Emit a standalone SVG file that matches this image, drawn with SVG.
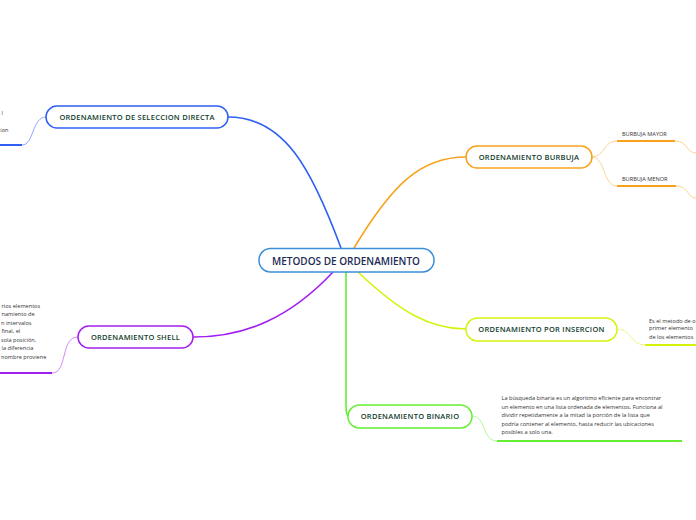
<svg xmlns="http://www.w3.org/2000/svg" width="696" height="520" viewBox="0 0 696 520">
<style>
.node{fill:#fff;stroke-width:1.5}
.nt{font-family:"Open Sans","Noto Sans",sans-serif;font-size:7.5px;font-weight:600;fill:#103b2c;text-anchor:middle;letter-spacing:0.25px}
.ct{font-family:"Open Sans","Noto Sans",sans-serif;font-size:10px;font-weight:600;fill:#1b2a52;text-anchor:middle}
.st{font-family:"Open Sans","Noto Sans",sans-serif;font-size:5.6px;fill:#333}
.main{fill:none;stroke-width:1.6}
.sub{fill:none;stroke-width:0.9}
.ul{fill:none;stroke-width:2}
</style>
<rect width="696" height="520" fill="#fff"/>
<g id="connectors">
<path class="main" d="M341,248 C312,170 285,117 228,117" stroke="#2f5ff5"/>
<path class="main" d="M354,248 C392,185 420,157 466,157" stroke="#f7a21b"/>
<path class="main" d="M333,272 C290,318 245,337 193,337" stroke="#a31ef0"/>
<path class="main" d="M358,272 C400,312 430,329 466,329" stroke="#d6f20a"/>
<path class="main" d="M346,272 L346,400 C346,412 346,416 350,416" stroke="#66ee33"/>
<path class="sub" d="M46,117 C32,117 34,145 22,145" stroke="#7f9cf7"/>
<path class="ul" d="M0,145 L22,145" stroke="#2f5ff5"/>
<path class="sub" d="M78,337 C60,337 68,373 52,373" stroke="#c77af5"/>
<path class="ul" d="M0,373 L52,373" stroke="#a31ef0"/>
<path class="sub" d="M592,157 C605,157 603,141 617,141" stroke="#fbcf85"/>
<path class="sub" d="M592,157 C605,157 603,186 617,186" stroke="#fbcf85"/>
<path class="ul" d="M617,141 L675,141" stroke="#f7a21b"/>
<path class="ul" d="M617,186 L676,186" stroke="#f7a21b"/>
<path class="sub" d="M675,141 C688,141 686,153 696,153" stroke="#fbcf85"/>
<path class="sub" d="M676,186 C689,186 687,198 696,198" stroke="#fbcf85"/>
<path class="sub" d="M617,329 C632,329 630,345 645,345" stroke="#e6f77a"/>
<path class="ul" d="M645,345 L696,345" stroke="#d6f20a"/>
<path class="sub" d="M472,416 C486,416 482,441 497,441" stroke="#a8f58a"/>
<path class="ul" d="M497,441 L682,441" stroke="#66ee33"/>
</g>
<g id="center">
<rect class="node" x="259" y="248.5" width="175" height="23.5" rx="11.5" stroke="#3b8fd9"/>
<text class="ct" x="346" y="264.5">METODOS DE ORDENAMIENTO</text>
</g>
<g id="seleccion">
<rect class="node" x="46" y="106" width="182" height="22" rx="11" stroke="#2f5ff5"/>
<text class="nt" x="137" y="119.7">ORDENAMIENTO DE SELECCION DIRECTA</text>
<text class="st" x="3" y="115" text-anchor="end">l</text>
<text class="st" x="8.5" y="132" text-anchor="end">ion</text>
</g>
<g id="burbuja">
<rect class="node" x="466" y="146" width="126" height="22" rx="11" stroke="#f7a21b"/>
<text class="nt" x="529" y="159.7">ORDENAMIENTO BURBUJA</text>
<text class="st" x="622" y="136">BURBUJA MAYOR</text>
<text class="st" x="622" y="181">BURBUJA MENOR</text>
</g>
<g id="insercion">
<rect class="node" x="466" y="318" width="151" height="23" rx="11.5" stroke="#d6f20a"/>
<text class="nt" x="541.5" y="332.2">ORDENAMIENTO POR INSERCION</text>
<text class="st" x="649" y="322.7">Es el metodo de o</text>
<text class="st" x="649" y="330.3">primer elemento</text>
<text class="st" x="649" y="338.7">de los elementos</text>
</g>
<g id="shell">
<rect class="node" x="78" y="326" width="115" height="22" rx="11" stroke="#a31ef0"/>
<text class="nt" x="135.5" y="339.7">ORDENAMIENTO SHELL</text>
<text class="st" x="1.5" y="307.5">rios elementos</text>
<text class="st" x="1.5" y="316">namiento de</text>
<text class="st" x="1" y="324.5">n intervalos</text>
<text class="st" x="1.5" y="333">final, el</text>
<text class="st" x="1" y="341.5">sola posición,</text>
<text class="st" x="1.5" y="350">la diferencia</text>
<text class="st" x="1" y="358.5">nombre proviene</text>
</g>
<g id="binario">
<rect class="node" x="348" y="405" width="124" height="23" rx="11.5" stroke="#66ee33"/>
<text class="nt" x="410" y="419.2">ORDENAMIENTO BINARIO</text>
<text class="st" x="501.5" y="400.3">La búsqueda binaria es un algoritmo eficiente para encontrar</text>
<text class="st" x="501.5" y="408.8">un elemento en una lista ordenada de elementos. Funciona al</text>
<text class="st" x="501.5" y="417.3">dividir repetidamente a la mitad la porción de la lista que</text>
<text class="st" x="501.5" y="425.8">podría contener al elemento, hasta reducir las ubicaciones</text>
<text class="st" x="501.5" y="434.3">posibles a solo una.</text>
</g>
</svg>
